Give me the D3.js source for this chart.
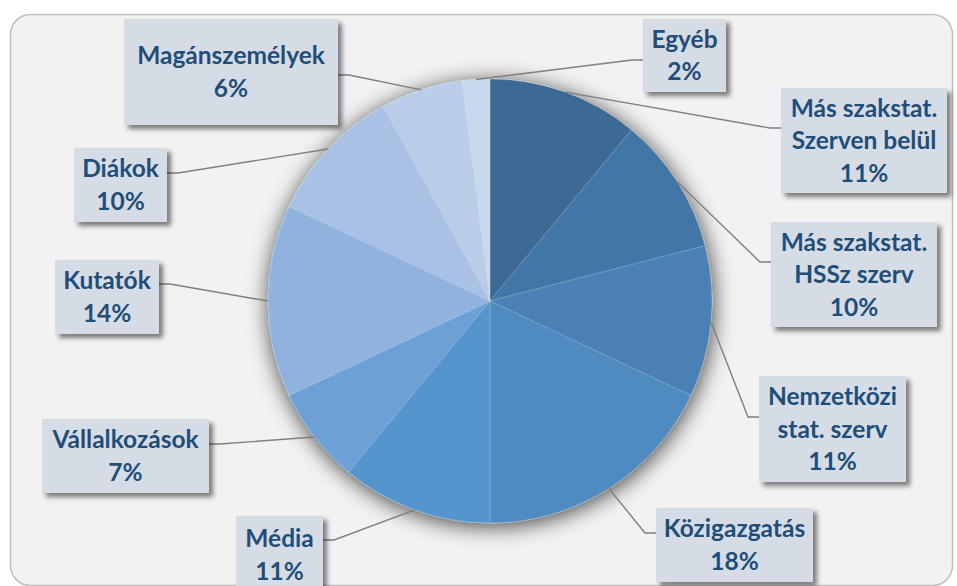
<!DOCTYPE html>
<html>
<head>
<meta charset="utf-8">
<script src="https://cdn.jsdelivr.net/npm/d3@7"></script>
<style>
  body { margin: 0; background: #ffffff; }
  svg { display: block; }
</style>
</head>
<body>
<script>
var width = 957,
  height = 586;

// Data, clockwise from 12 o'clock
var categories = ["Más szakstat. Szerven belül", "Más szakstat. HSSz szerv", "Nemzetközi stat. szerv",
  "Közigazgatás", "Média", "Vállalkozások", "Kutatók", "Diákok", "Magánszemélyek", "Egyéb"];
var labelLines = [["Más szakstat.", "Szerven belül"], ["Más szakstat.", "HSSz szerv"], ["Nemzetközi", "stat. szerv"],
  ["Közigazgatás"], ["Média"], ["Vállalkozások"], ["Kutatók"], ["Diákok"], ["Magánszemélyek"], ["Egyéb"]];
var values = [11, 10, 11, 18, 11, 7, 14, 10, 6, 2];
var colorRange = ["#3c6a94", "#4376a6", "#4a80b5", "#4f8ac1", "#5595ce", "#6ca0d6",
  "#8fb3de", "#a8c1e4", "#b9cde9", "#cad8ee"];

// Label box layout: [x, y, w, h, attachY, side]
var boxes = [
  [781, 88, 166, 105, 128, "left"],
  [771, 222, 166, 105, 262, "left"],
  [759, 376, 147, 106, 417, "left"],
  [656, 508, 157, 74, 533, "left"],
  [236, 516, 87, 78, 540, "right"],
  [42, 419, 167, 74, 444, "right"],
  [55, 260, 104, 74, 284, "right"],
  [74, 148, 93, 74, 173, "right"],
  [124, 19, 214, 106, 75, "right"],
  [643, 19, 83, 73, 60, "left"]
];

var cx = 490, cy = 301, radius = 222;

var svg = d3.select("body").append("svg")
  .attr("width", width)
  .attr("height", height);

var defs = svg.append("defs");

// soft shadow round the pie
var glow = defs.append("filter").attr("id", "pieShadow")
  .attr("x", "-20%").attr("y", "-20%").attr("width", "140%").attr("height", "140%");
glow.append("feGaussianBlur").attr("in", "SourceAlpha").attr("stdDeviation", 11).attr("result", "b");
glow.append("feOffset").attr("in", "b").attr("dx", 1).attr("dy", 3).attr("result", "o");
glow.append("feComponentTransfer").attr("in", "o").attr("result", "s")
  .append("feFuncA").attr("type", "linear").attr("slope", 0.75);
var gm = glow.append("feMerge");
gm.append("feMergeNode").attr("in", "s");
gm.append("feMergeNode").attr("in", "SourceGraphic");

// drop shadow for label boxes
var drop = defs.append("filter").attr("id", "boxShadow")
  .attr("x", "-20%").attr("y", "-20%").attr("width", "140%").attr("height", "150%");
drop.append("feGaussianBlur").attr("in", "SourceAlpha").attr("stdDeviation", 2.5).attr("result", "b");
drop.append("feOffset").attr("in", "b").attr("dx", 4).attr("dy", 4).attr("result", "o");
drop.append("feComponentTransfer").attr("in", "o").attr("result", "s")
  .append("feFuncA").attr("type", "linear").attr("slope", 0.5);
var dm = drop.append("feMerge");
dm.append("feMergeNode").attr("in", "s");
dm.append("feMergeNode").attr("in", "SourceGraphic");

// Chart area
svg.append("rect")
  .attr("x", 10.5).attr("y", 14.5)
  .attr("width", 942).attr("height", 571)
  .attr("rx", 20)
  .attr("fill", "#f2f2f2")
  .attr("stroke", "#bfbfbf")
  .attr("stroke-width", 1.5);

var pie = d3.pie().sort(null).value(function (d) { return d; });
var arcs = pie(values);

var arc = d3.arc().innerRadius(0).outerRadius(radius);

var color = d3.scaleOrdinal().domain(categories).range(colorRange);

var g = svg.append("g").attr("transform", "translate(" + cx + "," + cy + ")");

g.append("g")
  .attr("filter", "url(#pieShadow)")
  .selectAll("path")
  .data(arcs)
  .enter()
  .append("path")
  .attr("d", arc)
  .attr("fill", function (d, i) { return color(categories[i]); })
  .attr("stroke", "#ffffff")
  .attr("stroke-opacity", 0.25)
  .attr("stroke-width", 0.7);

// Leader lines
svg.append("g").selectAll("polyline")
  .data(arcs)
  .enter()
  .append("polyline")
  .attr("points", function (d, i) {
    var a = (d.startAngle + d.endAngle) / 2;
    var px = cx + radius * Math.sin(a),
      py = cy - radius * Math.cos(a);
    var b = boxes[i];
    var ex = b[5] == "left" ? b[0] : b[0] + b[2];
    var kx = b[5] == "left" ? ex - 11 : ex + 11;
    return [[px, py], [kx, b[4]], [ex, b[4]]].join(" ");
  })
  .attr("fill", "none")
  .attr("stroke", "#7f7f7f")
  .attr("stroke-width", 1.4);

// Label boxes
var lab = svg.append("g").selectAll("g")
  .data(arcs)
  .enter()
  .append("g");

lab.append("rect")
  .attr("x", function (d, i) { return boxes[i][0]; })
  .attr("y", function (d, i) { return boxes[i][1]; })
  .attr("width", function (d, i) { return boxes[i][2]; })
  .attr("height", function (d, i) { return boxes[i][3]; })
  .attr("fill", "#d6dce5")
  .attr("filter", "url(#boxShadow)");

var lineH = 32.5;

lab.each(function (d, i) {
  var lines = labelLines[i].concat([values[i] + "%"]);
  var b = boxes[i];
  var mx = b[0] + b[2] / 2,
    my = b[1] + b[3] / 2;
  d3.select(this).selectAll("text")
    .data(lines)
    .enter()
    .append("text")
    .attr("x", mx)
    .attr("y", function (t, j) { return my + (j - (lines.length - 1) / 2) * lineH + 8.5; })
    .attr("text-anchor", "middle")
    .attr("font-family", "Lato, 'Open Sans', sans-serif")
    .attr("font-weight", "bold")
    .attr("font-size", "24.5px")
    .attr("fill", "#1f4e79")
    .text(function (t) { return t; });
});
</script>
</body>
</html>
